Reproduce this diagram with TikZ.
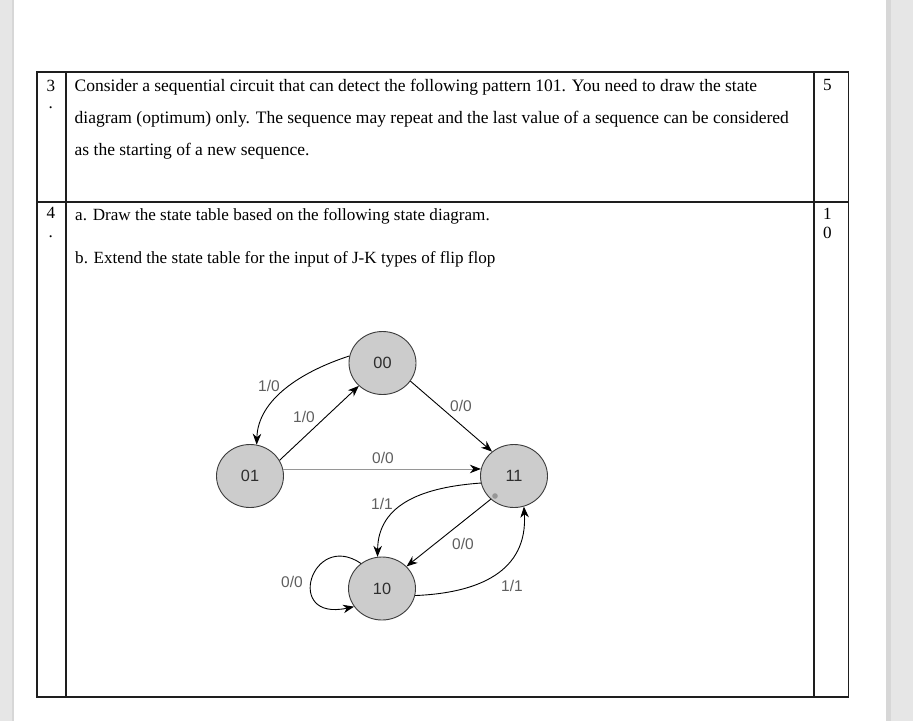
\documentclass[tikz,border=0pt]{standalone}
\usepackage{fontspec}
\setmainfont{Liberation Serif}
\newfontfamily\arialf{Liberation Sans}
\usetikzlibrary{arrows.meta,shapes.geometric}
\definecolor{bggray}{RGB}{230,230,230}
\definecolor{shadowgray}{RGB}{215,215,215}
\definecolor{nodefill}{RGB}{204,204,204}
\definecolor{nodeline}{RGB}{60,60,60}
\definecolor{labelgray}{RGB}{95,95,95}
\definecolor{nodetext}{RGB}{45,45,45}
\definecolor{lightline}{RGB}{150,150,150}
\definecolor{tableline}{RGB}{30,30,30}
\tikzset{
  doctext/.style={anchor=base west, inner sep=0pt, font=\fontsize{17.1}{20}\selectfont},
  doctextwide/.style={anchor=base west, inner sep=0pt, font=\fontsize{17.5}{20}\selectfont},
  state/.style={ellipse, draw=nodeline, line width=0.9pt, fill=nodefill, minimum width=67pt, minimum height=63pt, inner sep=0pt, text=nodetext, font=\arialf\fontsize{16.3}{16}\selectfont},
  edgelabel/.style={inner sep=0pt, text=labelgray, font=\arialf\fontsize{15.5}{15.5}\selectfont},
  trans/.style={draw=black, line width=0.9pt, -{Stealth[length=11pt,width=8.5pt,inset=3.5pt,color=black]}},
  tline/.style={draw=tableline, line width=1.3pt}
}
\begin{document}
\begin{tikzpicture}[x=1pt,y=1pt]
\useasboundingbox (0,0) rectangle (913,-721);
% page background
\fill[bggray] (0,0) rectangle (913,-721);
\fill[white] (14,0) rectangle (886,-721);
\fill[shadowgray] (886,0) rectangle (891,-721);
\fill[shadowgray] (12,0) rectangle (14,-721);
% table
\draw[tline] (37,-72) rectangle (848.5,-697);
\draw[tline] (66,-72) -- (66,-697);
\draw[tline] (814,-72) -- (814,-697);
\draw[tline] (37,-202) -- (848.5,-202);
% row 3 text
\node[doctext] (n3) at (46.5,-91) {3};
\node[doctext] (n3dot) at (48.5,-108) {.};
\node[doctextwide] (q3a) at (74.5,-91) {Consider a sequential circuit that can detect the following pattern 101. You need to draw the state};
\node[doctextwide] (q3b) at (74.5,-123) {diagram (optimum) only. The sequence may repeat and the last value of a sequence can be considered};
\node[doctextwide] (q3c) at (74.5,-155) {as the starting of a new sequence.};
\node[doctext] (m5) at (823,-90.5) {5};
% row 4 text
\node[doctext] (n4) at (46.5,-218.5) {4};
\node[doctext] (n4dot) at (48.5,-237) {.};
\node[doctext] (q4a) at (75,-220) {a. Draw the state table based on the following state diagram.};
\node[doctext] (q4b) at (75,-263) {b. Extend the state table for the input of J-K types of flip flop};
\node[doctext] (m10a) at (823,-219) {1};
\node[doctext] (m10b) at (823,-238) {0};
% states
\node[state] (s00) at (382.5,-363) {00};
\node[state] (s01) at (250,-476) {01};
\node[state] (s11) at (514,-476) {11};
\node[state] (s10) at (382,-588.5) {10};
\fill[lightline] (495,-496) circle (2.8pt);
% transitions
\draw[trans] (s00.168) .. controls (300,-372) and (258,-400) .. (s01.78);
\node[edgelabel] (l1) at (269,-386) {1/0};
\draw[trans] (s01.28) -- (s00.224);
\node[edgelabel] (l2) at (304,-417) {1/0};
\draw[trans] (s00.-33) -- (s11.132);
\node[edgelabel] (l3) at (461,-406) {0/0};
\draw[trans, draw=lightline] (s01.12) -- (s11.168);
\node[edgelabel] (l4) at (383,-458) {0/0};
\draw[trans] (s11.192) .. controls (425,-487) and (378,-503) .. (s10.98);
\node[edgelabel] (l5) at (382,-504) {1/1};
\draw[trans] (s11.225) -- (s10.42);
\node[edgelabel] (l6) at (463,-544) {0/0};
\draw[trans] (s10.-12) .. controls (478,-593) and (528,-572) .. (s11.-72);
\node[edgelabel] (l7) at (512,-586) {1/1};
\draw[trans] (s10.130) .. controls (312,-530) and (283,-622) .. (s10.213);
\node[edgelabel] (l8) at (292,-582) {0/0};
\end{tikzpicture}
\end{document}
